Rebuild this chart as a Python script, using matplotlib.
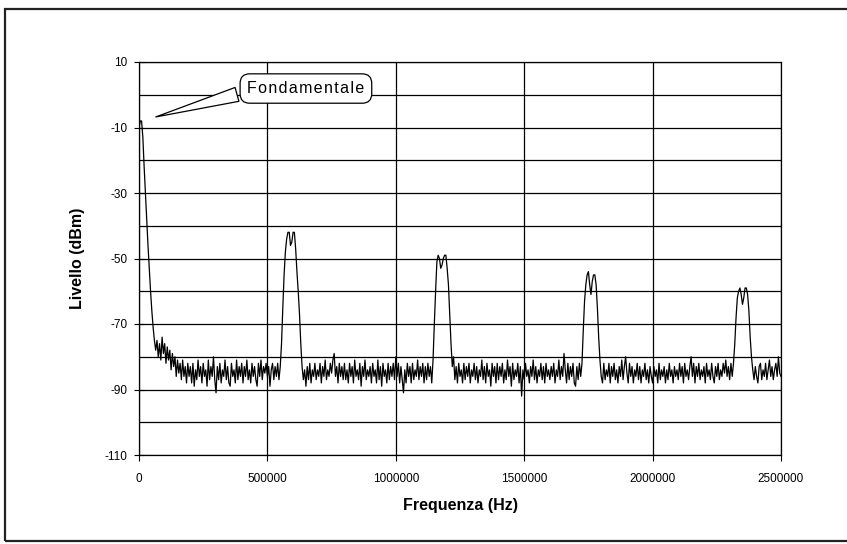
import numpy as np
import matplotlib
matplotlib.use("Agg")
import matplotlib.pyplot as plt
from matplotlib import font_manager
from matplotlib.patches import Rectangle

# spettro, un punto ogni 5 kHz
passo_hz = 5000

banda_0 = [-10, -8, -8, -13, -22, -30, -38, -46, -53, -60, -66, -71, -75, -78, -75, -80, -76, -81, -74, -79,
           -76, -82, -77, -81, -78, -84, -79, -83, -80, -86, -81, -85, -82, -87, -81, -86, -83, -88, -82, -86,
           -83, -88, -82, -89, -84, -87, -81, -86, -83, -88, -82, -86, -84, -89, -81, -87, -83, -86, -80, -87,
           -91, -83, -87, -82, -88, -84, -86, -81, -87, -83, -88, -89, -82, -86, -84, -88, -81, -87, -83, -86,
           -82, -88, -83, -86, -81, -87, -84, -88, -82, -86, -83, -87, -89, -82, -86, -81, -87, -83, -85, -82]

banda_1 = [-86, -83, -89, -84, -82, -87, -83, -86, -82, -87, -83, -76, -65, -55, -48, -44, -42, -42, -46, -45,
           -42, -42, -47, -54, -60, -67, -76, -83, -87, -84, -89, -83, -87, -82, -88, -84, -86, -82, -87, -84,
           -86, -82, -88, -83, -86, -81, -87, -84, -86, -82, -85, -81, -79, -86, -83, -88, -82, -86, -83, -87,
           -82, -87, -84, -88, -82, -86, -83, -88, -81, -86, -84, -87, -82, -89, -83, -86, -81, -87, -84, -86,
           -83, -88, -82, -86, -84, -88, -81, -87, -83, -89, -82, -86, -84, -88, -82, -87, -83, -86, -82, -87]

banda_2 = [-80, -86, -82, -88, -83, -87, -91, -84, -88, -82, -86, -83, -88, -82, -87, -84, -86, -81, -87, -83,
           -86, -82, -88, -83, -87, -82, -86, -83, -88, -81, -70, -60, -51, -49, -50, -53, -52, -50, -49, -49,
           -53, -58, -67, -76, -83, -80, -87, -83, -88, -82, -86, -84, -88, -82, -87, -83, -86, -82, -88, -84,
           -86, -82, -87, -83, -88, -84, -86, -81, -87, -83, -88, -82, -86, -84, -89, -82, -86, -83, -88, -82,
           -87, -83, -86, -82, -88, -84, -87, -81, -86, -83, -89, -82, -87, -84, -86, -82, -88, -83, -92, -84]

banda_3 = [-87, -82, -86, -84, -88, -83, -86, -81, -87, -83, -88, -84, -86, -82, -87, -83, -88, -82, -86, -84,
           -87, -83, -86, -82, -88, -84, -86, -81, -87, -83, -86, -79, -84, -88, -82, -87, -83, -86, -82, -88,
           -89, -83, -87, -82, -86, -82, -72, -63, -58, -55, -54, -58, -61, -57, -55, -55, -58, -65, -74, -81,
           -86, -88, -82, -87, -84, -86, -82, -88, -83, -86, -82, -87, -84, -88, -83, -86, -81, -87, -83, -80,
           -85, -88, -82, -86, -83, -88, -84, -86, -82, -87, -83, -88, -84, -86, -82, -87, -84, -88, -83, -86]

banda_4 = [-88, -83, -86, -84, -88, -82, -87, -84, -86, -83, -88, -84, -87, -82, -86, -84, -88, -83, -86, -84,
           -87, -82, -86, -83, -88, -82, -86, -84, -87, -83, -80, -86, -82, -88, -83, -86, -82, -87, -84, -86,
           -83, -88, -82, -86, -84, -87, -82, -86, -88, -83, -86, -82, -87, -84, -86, -82, -85, -81, -86, -83,
           -87, -82, -86, -82, -76, -68, -62, -60, -59, -61, -64, -62, -59, -59, -61, -66, -74, -80, -84, -87,
           -83, -86, -88, -83, -82, -87, -84, -86, -82, -87, -84, -81, -86, -83, -87, -84, -82, -86, -80, -85,
           -86]

livello = np.array(banda_0 + banda_1 + banda_2 + banda_3 + banda_4, dtype=float)
frequenza = np.arange(len(livello)) * passo_hz

y_ticks = [10, -10, -30, -50, -70, -90, -110]
x_ticks = [0, 500000, 1000000, 1500000, 2000000, 2500000]

# font stretto se esiste, altrimenti Liberation Sans
nomi = {f.name for f in font_manager.fontManager.ttflist}
stretto = "Liberation Sans Narrow" if "Liberation Sans Narrow" in nomi else "Liberation Sans"

fig = plt.figure(figsize=(8.47, 5.44), dpi=100)
ax = fig.add_axes([139/847, 1-455/544, 642/847, 393/544])

# bordo esterno della figura
fig.patches.append(Rectangle((5/847, 3/544), 845/847, 532/544, transform=fig.transFigure,
                             fill=False, ec="#222222", lw=1.6))

ax.plot(frequenza, livello, color="black", lw=0.9)

ax.set_xlim(0, 2500000)
ax.set_ylim(-110, 10)
ax.set_yticks(np.arange(-110, 11, 10), minor=True)
ax.set_yticks(y_ticks)
ax.set_xticks(x_ticks)
ax.set_xticklabels([str(v) for v in x_ticks], family=stretto, fontsize=8.5)
ax.set_yticklabels([str(v) for v in y_ticks], family="Liberation Sans", fontsize=8.5)
ax.tick_params(axis="y", which="major", direction="inout", length=7, width=0.8, pad=5)
ax.tick_params(axis="y", which="minor", length=0)
ax.tick_params(axis="x", direction="out", length=4, width=0.8, pad=9)
ax.grid(True, which="both", axis="y", color="black", lw=0.9)
ax.grid(True, which="major", axis="x", color="black", lw=0.9)
for s in ax.spines.values():
    s.set_color("black")
    s.set_linewidth(0.9)

ax.set_xlabel("Frequenza (Hz)", family=stretto, fontweight="bold", fontsize=11.5, labelpad=9)
ax.set_ylabel("Livello (dBm)", family="Liberation Sans", fontweight="bold", fontsize=11.5, labelpad=14)

ax.annotate("\u200a".join("Fondamentale"), xy=(55000, -7), xytext=(650000, 1.9),
            ha="center", va="center", family="Liberation Sans", fontsize=11.5,
            bbox=dict(boxstyle="round,pad=0.45,rounding_size=0.6", fc="white", ec="black", lw=0.9),
            arrowprops=dict(arrowstyle="wedge,tail_width=0.9,shrink_factor=0.5", fc="white", ec="black",
                            lw=0.9, relpos=(0.0, 0.3)))

fig.savefig("out.png", dpi=100)
